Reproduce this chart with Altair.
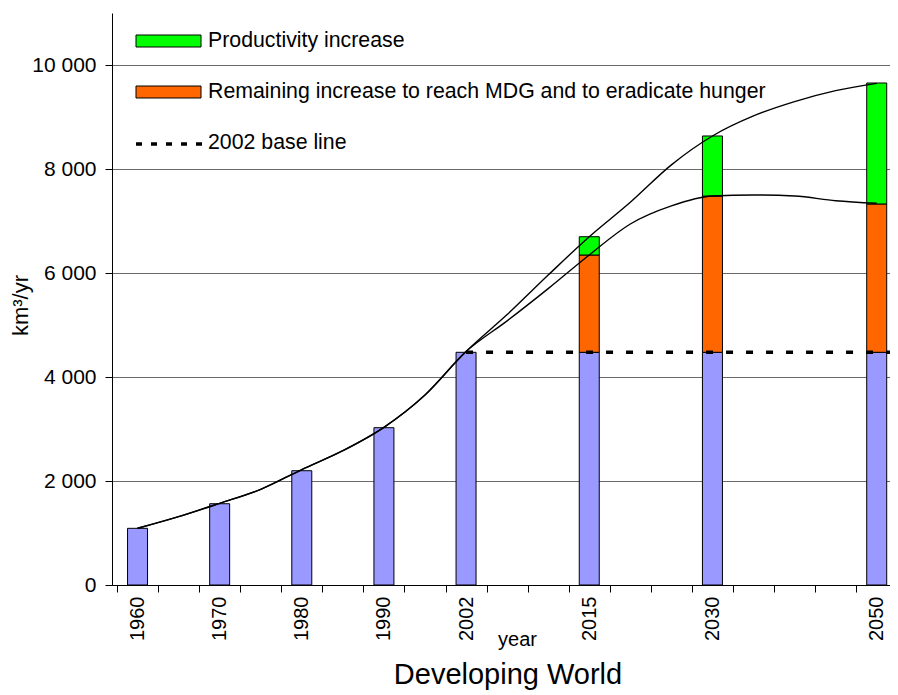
import json
import altair as alt
import pandas as pd

# ---------------- data ----------------
categories = ["1960", "1965", "1970", "1975", "1980", "1985", "1990", "1995", "2002",
              "2005", "2010", "2015", "2020", "2025", "2030", "2035", "2040", "2045", "2050"]
labeled_years = ["1960", "1970", "1980", "1990", "2002", "2015", "2030", "2050"]

bar_years = ["1960", "1970", "1980", "1990", "2002", "2015", "2030", "2050"]
base_values = [1090, 1563, 2198, 3025, 4475, 4475, 4475, 4475]
remaining_tops = [None, None, None, None, None, 6346, 7480, 7327]
productivity_tops = [None, None, None, None, None, 6698, 8635, 9654]

upper_curve = [1090, 1314, 1571, 1840, 2220, 2583, 3032, 3654, 4490, 5200, 5960, 6698,
               7360, 8080, 8635, 9020, 9295, 9506, 9647]
lower_curve = [1090, 1314, 1571, 1840, 2220, 2583, 3032, 3654, 4490, 5080, 5700, 6346,
               6942, 7290, 7480, 7500, 7480, 7390, 7340]

baseline_value = 4475
baseline_from = "2002"

legend_labels = ["Productivity increase",
                 "Remaining increase to reach MDG and to eradicate hunger",
                 "2002 base line"]
y_ticks = [0, 2000, 4000, 6000, 8000, 10000]
chart_title = "Developing World"
x_title = "year"
y_title = "km³/yr"

# ---------------- tables ----------------
idx = {c: i for i, c in enumerate(categories)}
seg_rows = []
for yr, b, r, p in zip(bar_years, base_values, remaining_tops, productivity_tops):
    seg_rows.append({"idx": idx[yr], "y0": 0, "y1": b, "seg": "base"})
    if r is not None:
        seg_rows.append({"idx": idx[yr], "y0": b, "y1": r, "seg": "remaining"})
    if p is not None:
        seg_rows.append({"idx": idx[yr], "y0": r, "y1": p, "seg": "productivity"})
bars_df = pd.DataFrame(seg_rows)

line_rows = []
for name, vals in (("upper", upper_curve), ("lower", lower_curve)):
    for i, v in enumerate(vals):
        line_rows.append({"idx": i, "v": v, "series": name})
lines_df = pd.DataFrame(line_rows)

n_cat = len(categories)
base_df = pd.DataFrame([{"x0": idx[baseline_from], "x1": n_cat - 0.5, "v": baseline_value}])

# ---------------- layout ----------------
FONT = "Liberation Sans"
CAT_W = 41.6
PLOT_W = 778
PLOT_H = 572
x_max = -0.5 + PLOT_W / CAT_W

label_idx = [idx[y] for y in labeled_years]
boundaries = [i - 0.5 for i in range(n_cat)]
x_values = sorted(boundaries + label_idx)

x_scale = alt.Scale(domain=[-0.5, x_max], nice=False, zero=False)
y_scale = alt.Scale(domain=[0, 11000], nice=False)

x_axis = alt.Axis(
    values=x_values,
    labelExpr="datum.value % 1 == 0 ? " + json.dumps(categories) + "[datum.value] : ''",
    labelAngle=270, labelFontSize=20, labelFont=FONT, labelColor="black",
    labelPadding=4, labelOverlap=False,
    tickSize=7, tickColor="black",
    tickOpacity={"condition": {"test": "datum.value % 1 == 0", "value": 0}, "value": 1},
    domainColor="black", grid=False,
    title=x_title, titleFont=FONT, titleFontSize=20, titleFontWeight="normal",
    titleColor="black", titleX=405, titleY=60, titleAlign="center",
    titleBaseline="alphabetic", titleAngle=0,
)
y_axis = alt.Axis(
    values=y_ticks,
    labelExpr="replace(format(datum.value, ','), ',', ' ')",
    labelFontSize=21, labelFont=FONT, labelColor="black", labelPadding=9,
    tickSize=7, tickColor="black", domainColor="black",
    grid=True, gridColor="#6a6a6a", gridWidth=1,
    title=y_title, titleFont=FONT, titleFontSize=22, titleFontWeight="normal",
    titleColor="black", titleX=-85, titleY=292, titleAngle=270,
    titleAlign="center", titleBaseline="alphabetic",
)

X = alt.X("idx:Q", scale=x_scale, axis=x_axis)
Y = alt.Y("y0:Q", scale=y_scale, axis=y_axis)

bars = alt.Chart(bars_df).mark_bar(size=20, stroke="black", strokeWidth=1).encode(
    x=X,
    y=Y,
    y2="y1:Q",
    color=alt.Color("seg:N", legend=None,
                    scale=alt.Scale(domain=["base", "remaining", "productivity"],
                                    range=["#9999FF", "#FF6600", "#00FF00"])),
)

lines = alt.Chart(lines_df).mark_line(color="black", strokeWidth=1.4, interpolate="monotone").encode(
    x=alt.X("idx:Q", scale=x_scale, axis=x_axis),
    y=alt.Y("v:Q", scale=y_scale, axis=y_axis),
    detail="series:N",
)

base_rule = alt.Chart(base_df).mark_rule(color="black", strokeWidth=3.5, strokeDash=[7, 13]).encode(
    x=alt.X("x0:Q", scale=x_scale, axis=x_axis),
    x2="x1:Q",
    y=alt.Y("v:Q", scale=y_scale, axis=y_axis),
)

# ---------------- legend (inside plot) ----------------
one = alt.Data(values=[{"a": 1}])
leg_green = alt.Chart(one).mark_rect(fill="#00FF00", stroke="black", strokeWidth=1).encode(
    x=alt.value(24), x2=alt.value(89), y=alt.value(22), y2=alt.value(34))
leg_orange = alt.Chart(one).mark_rect(fill="#FF6600", stroke="black", strokeWidth=1).encode(
    x=alt.value(24), x2=alt.value(89), y=alt.value(73), y2=alt.value(85))
leg_dash = alt.Chart(one).mark_rule(color="black", strokeWidth=3.5, strokeDash=[6, 9]).encode(
    x=alt.value(24), x2=alt.value(93), y=alt.value(131))

leg_texts = []
for lab, yy in zip(legend_labels, [28, 79, 130]):
    leg_texts.append(
        alt.Chart(alt.Data(values=[{"t": lab}])).mark_text(
            align="left", baseline="middle", font=FONT, fontSize=21.3, color="black"
        ).encode(x=alt.value(96), y=alt.value(yy), text="t:N")
    )

title_text = alt.Chart(alt.Data(values=[{"t": chart_title}])).mark_text(
    align="center", baseline="alphabetic", font=FONT, fontSize=29, color="black"
).encode(x=alt.value(396), y=alt.value(671), text="t:N")

chart = alt.layer(
    bars, lines, base_rule, leg_green, leg_orange, leg_dash, *leg_texts, title_text
).properties(
    width=PLOT_W, height=PLOT_H,
    autosize=alt.AutoSizeParams(type="none"),
    padding={"left": 104, "top": 5, "right": 0, "bottom": 110},
    background="white",
).configure_view(stroke=None)

chart.save("out.html", embed_options={"renderer": "svg", "actions": False})
